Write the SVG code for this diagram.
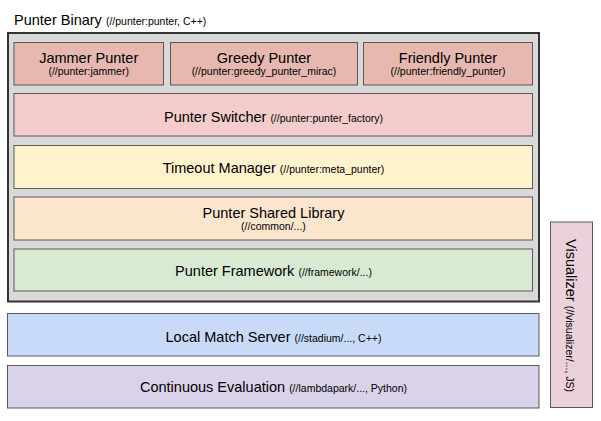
<svg xmlns="http://www.w3.org/2000/svg" width="601" height="421" viewBox="0 0 601 421">
<style>
text{font-family:"Liberation Sans",Arial,sans-serif;fill:#000}
.m{font-size:14.5px}
.s{font-size:10.5px}
.c{text-anchor:middle}
.b{stroke:#595959;stroke-width:1}
</style>
<rect width="601" height="421" fill="#fff"/>
<g id="punter-binary">
<rect x="8" y="33" width="531" height="268.5" fill="#d9d9d9" stroke="#333" stroke-width="2"/>
<text x="14" y="25"><tspan class="m">Punter Binary </tspan><tspan class="s">(//punter:punter, C++)</tspan></text>
</g>
<g id="jammer">
<rect class="b" x="14" y="42.5" width="149.5" height="42.5" fill="#e6b8af"/>
<text class="c m" x="88.7" y="63.3">Jammer Punter</text>
<text class="c s" x="88.7" y="75">(//punter:jammer)</text>
</g>
<g id="greedy">
<rect class="b" x="170.5" y="42.5" width="187" height="42.5" fill="#e6b8af"/>
<text class="c m" x="264" y="63.3">Greedy Punter</text>
<text class="c s" x="264" y="75">(//punter:greedy_punter_mirac)</text>
</g>
<g id="friendly">
<rect class="b" x="363.5" y="42.5" width="169" height="42.5" fill="#e6b8af"/>
<text class="c m" x="448" y="63.3">Friendly Punter</text>
<text class="c s" x="448" y="75">(//punter:friendly_punter)</text>
</g>
<g id="switcher">
<rect class="b" x="14" y="93.5" width="518.5" height="42.5" fill="#f4cccc"/>
<text class="c" x="273.5" y="121.5"><tspan class="m">Punter Switcher </tspan><tspan class="s">(//punter:punter_factory)</tspan></text>
</g>
<g id="timeout">
<rect class="b" x="14" y="145.5" width="518.5" height="43" fill="#fff2cc"/>
<text class="c" x="273.5" y="173.3"><tspan class="m">Timeout Manager </tspan><tspan class="s">(//punter:meta_punter)</tspan></text>
</g>
<g id="shared">
<rect class="b" x="14" y="197" width="518.5" height="43" fill="#fce5cd"/>
<text class="c m" x="273.5" y="218">Punter Shared Library</text>
<text class="c s" x="273.5" y="230">(//common/...)</text>
</g>
<g id="framework">
<rect class="b" x="14" y="249" width="518.5" height="42" fill="#d9ead3"/>
<text class="c" x="273.5" y="276.3"><tspan class="m">Punter Framework </tspan><tspan class="s">(//framework/...)</tspan></text>
</g>
<g id="match-server">
<rect class="b" x="7.5" y="313.5" width="531.5" height="42.5" fill="#c9daf8"/>
<text class="c" x="273.5" y="341.5"><tspan class="m">Local Match Server </tspan><tspan class="s">(//stadium/..., C++)</tspan></text>
</g>
<g id="continuous-eval">
<rect class="b" x="7.5" y="365.5" width="531.5" height="42.5" fill="#d9d2e9"/>
<text class="c" x="273.5" y="391.5"><tspan class="m">Continuous Evaluation </tspan><tspan class="s">(//lambdapark/..., Python)</tspan></text>
</g>
<g id="visualizer">
<rect class="b" x="550.5" y="222" width="42" height="185.5" fill="#ead1dc"/>
<text class="c" transform="translate(566 315.5) rotate(90)"><tspan class="m">Visualizer </tspan><tspan class="s">(//visualizer/..., JS)</tspan></text>
</g>
<g id="connectors"></g>
</svg>
